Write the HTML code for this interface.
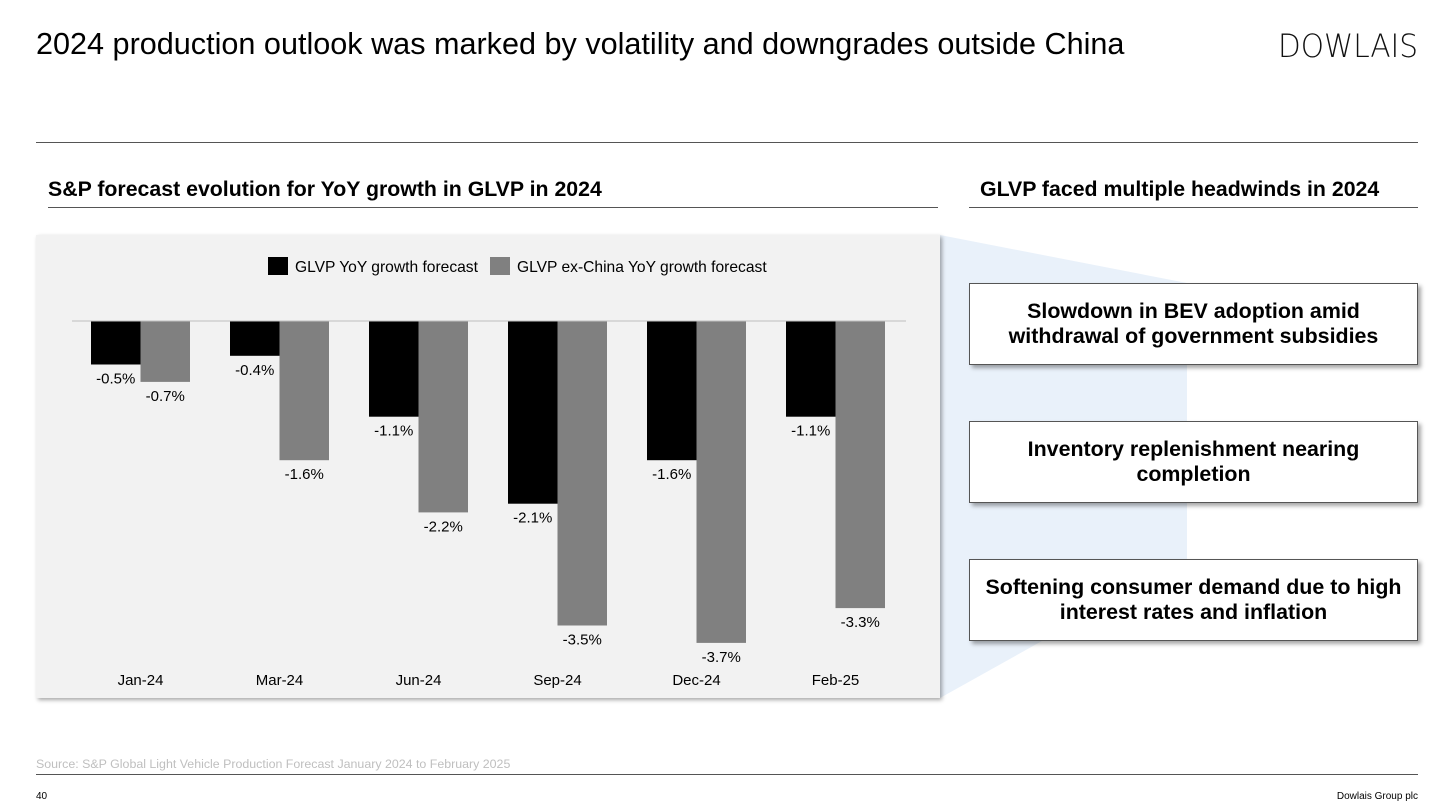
<!DOCTYPE html>
<html><head><meta charset="utf-8"><style>
body{margin:0;width:1456px;height:812px;background:#fff;font-family:"Liberation Sans",sans-serif;position:relative;overflow:hidden}
.a{position:absolute}
.box{position:absolute;left:969px;width:449px;height:82px;border:1px solid #555;background:#fff;box-shadow:3px 3px 4px rgba(0,0,0,0.35);display:flex;align-items:center;justify-content:center;text-align:center;font-weight:bold;font-size:21.4px;line-height:25px;box-sizing:border-box}
</style></head><body>
<div class="a" style="left:36px;top:27px;font-size:30.6px;color:#000">2024 production outlook was marked by volatility and downgrades outside China</div>
<svg class="a" style="left:1270px;top:25px" width="160" height="40"><text x="8" y="32" font-size="32" font-family="DejaVu Sans" font-weight="200" textLength="140" lengthAdjust="spacingAndGlyphs" fill="#111">DOWLAIS</text></svg>
<div class="a" style="left:36px;top:142px;width:1382px;height:1px;background:#555"></div>
<div class="a" style="left:48px;top:177px;font-size:21.3px;font-weight:bold">S&amp;P forecast evolution for YoY growth in GLVP in 2024</div>
<div class="a" style="left:48px;top:207px;width:890px;height:1px;background:#555"></div>
<div class="a" style="left:980px;top:177px;font-size:21.3px;font-weight:bold">GLVP faced multiple headwinds in 2024</div>
<div class="a" style="left:969px;top:207px;width:449px;height:1px;background:#555"></div>
<svg class="a" style="left:0;top:0" width="1456" height="812"><polygon points="940,235 1187,283 1187,560 940,698" fill="#e9f1fa"/></svg>
<div class="a" style="left:36px;top:235px;width:904px;height:463px;background:#f2f2f2;box-shadow:2px 2px 4px rgba(0,0,0,0.35)"></div>
<svg class="a" id="chart" style="left:0;top:0" width="1456" height="812"></svg>
<div class="box" style="top:283px">Slowdown in BEV adoption amid<br>withdrawal of government subsidies</div>
<div class="box" style="top:421px">Inventory replenishment nearing<br>completion</div>
<div class="box" style="top:559px">Softening consumer demand due to high<br>interest rates and inflation</div>
<div class="a" style="left:36px;top:757px;font-size:12.4px;color:#bfbfbf">Source: S&amp;P Global Light Vehicle Production Forecast January 2024 to February 2025</div>
<div class="a" style="left:36px;top:774px;width:1382px;height:1px;background:#555"></div>
<div class="a" style="left:36px;top:791px;font-size:10px">40</div>
<div class="a" style="right:38px;top:791px;font-size:10px">Dowlais Group plc</div>
<script>
const categories=["Jan-24","Mar-24","Jun-24","Sep-24","Dec-24","Feb-25"];
const glvp=[-0.5,-0.4,-1.1,-2.1,-1.6,-1.1];
const glvpExChina=[-0.7,-1.6,-2.2,-3.5,-3.7,-3.3];
const svg=document.getElementById('chart');
const NS='http://www.w3.org/2000/svg';
const y0=321,pxPer=87,x0=91,step=139,bw=49.5;
const y=v=>y0-v*pxPer;
function mk(t,at){const e=document.createElementNS(NS,t);for(const k in at)e.setAttribute(k,at[k]);svg.appendChild(e);return e;}
categories.forEach((c,i)=>{
  const gx=x0+i*step;
  [[glvp,'#000','glvp'],[glvpExChina,'#808080','exchina']].forEach(([arr,col,n],j)=>{
    const v=arr[i],bx=gx+j*bw;
    const r=mk('rect',{x:bx,y:y0,width:bw,height:y(v)-y0,fill:col});
    
    
    const t=mk('text',{x:bx+bw/2,y:y(v)+19,'text-anchor':'middle','font-size':15,'font-family':'Liberation Sans'});
    t.textContent=v.toFixed(1)+'%';
    
    
  });
  const t=mk('text',{x:gx+bw,y:685,'text-anchor':'middle','font-size':15,'font-family':'Liberation Sans'});
  t.textContent=c;
  
  
});
const base=mk('line',{x1:72,x2:906,y1:y0,y2:y0,stroke:'#bfbfbf','stroke-width':1});


const l1=mk('rect',{x:268,y:257,width:20,height:18,fill:'#000'});


const t1=mk('text',{x:295,y:272,'font-size':15.6,'font-family':'Liberation Sans'});t1.textContent='GLVP YoY growth forecast';


const l2=mk('rect',{x:490,y:257,width:20,height:18,fill:'#808080'});


const t2=mk('text',{x:517,y:272,'font-size':15.6,'font-family':'Liberation Sans'});t2.textContent='GLVP ex-China YoY growth forecast';


</script>
</body></html>
